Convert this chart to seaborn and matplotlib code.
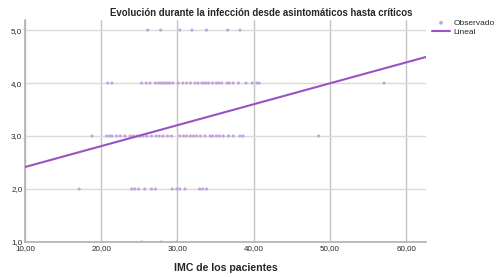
import matplotlib
matplotlib.use("Agg")
import matplotlib.pyplot as plt
from matplotlib.ticker import FuncFormatter
import seaborn as sns
import pandas as pd

imc_5 = [26.1, 27.8, 30.3, 31.9, 33.8, 36.6, 38.2]
imc_4 = [20.85, 21.4, 25.3, 25.9, 26.4, 27.1, 27.5, 27.8, 28.1, 28.4, 28.7, 29.0,
         29.4, 30.1, 30.7, 31.2, 31.7, 32.3, 32.7, 33.2, 33.5, 33.8, 34.1, 34.6,
         35.1, 35.4, 35.8, 36.5, 36.8, 37.3, 38.0, 39.0, 39.8, 40.4, 40.7, 57.1]
imc_3 = [18.8, 20.7, 21.1, 21.4, 22.0, 22.5, 23.1, 23.8, 24.2, 24.7, 25.1, 25.5,
         26.0, 26.6, 27.2, 27.6, 28.1, 28.7, 29.2, 30.3, 30.8, 31.2, 31.7, 32.1,
         32.5, 33.0, 33.6, 34.3, 34.6, 35.1, 35.5, 36.0, 36.7, 37.3, 38.2, 38.6, 48.5]
imc_2 = [17.1, 24.0, 24.4, 24.9, 25.7, 26.6, 27.1, 29.3, 29.9, 30.3, 31.0,
         32.9, 33.3, 33.8]
imc_1 = [25.3, 27.9, 29.9]

# linear fit
intercept = 2.02
slope = 0.0395
x_range = [10, 62.6]

rows = []
for nivel, vals in [(5, imc_5), (4, imc_4), (3, imc_3), (2, imc_2), (1, imc_1)]:
    for v in vals:
        rows.append({"imc": v, "nivel": nivel})
df = pd.DataFrame(rows)
fit = pd.DataFrame({"imc": x_range, "nivel": [intercept + slope * x for x in x_range]})

sns.set_style("white")
plt.rcParams['font.family'] = ['Liberation Sans', 'DejaVu Sans']

fig = plt.figure(figsize=(5.02, 2.77), dpi=100)
ax = fig.add_axes([25 / 502, 1 - 242 / 277, 401 / 502, 222 / 277])

sns.scatterplot(data=df, x="imc", y="nivel", ax=ax, color="#c0a4de", s=5,
                edgecolor="none", label="Observado", zorder=3)
sns.lineplot(data=fit, x="imc", y="nivel", ax=ax, color="#9a52c6", lw=1.5,
             label="Lineal", zorder=4)

ax.set_xlim(10, 62.6)
ax.set_ylim(1.0, 5.19)
ax.set_xticks([10, 20, 30, 40, 50, 60])
ax.set_yticks([1, 2, 3, 4, 5])
ax.xaxis.set_major_formatter(FuncFormatter(lambda v, p: f"{v:.2f}".replace(".", ",")))
ax.yaxis.set_major_formatter(FuncFormatter(lambda v, p: f"{v:.1f}".replace(".", ",")))
ax.tick_params(labelsize=5.8, length=0, pad=2)
ax.grid(axis="x", color="#c4c4c4", lw=1)
ax.grid(axis="y", color="#dadada", lw=1)
ax.set_axisbelow(True)
for s in ["top", "right"]:
    ax.spines[s].set_visible(False)
for s in ["left", "bottom"]:
    ax.spines[s].set_color("#b0b0b0")
    ax.spines[s].set_linewidth(1.2)

ax.set_xlabel("IMC de los pacientes", fontsize=7.6, fontweight="bold", labelpad=8)
ax.set_ylabel("")
ax.set_title("Evolución durante la infección desde asintomáticos hasta críticos",
             fontsize=6.9, fontweight="bold", pad=3, x=0.59)

leg = ax.legend(loc="upper left", bbox_to_anchor=(1.0, 1.03), frameon=False,
                fontsize=6, handlelength=2.2, labelspacing=0.1, borderaxespad=0.3,
                handletextpad=0.4, markerscale=1.2)

fig.savefig("out.png", dpi=100)
